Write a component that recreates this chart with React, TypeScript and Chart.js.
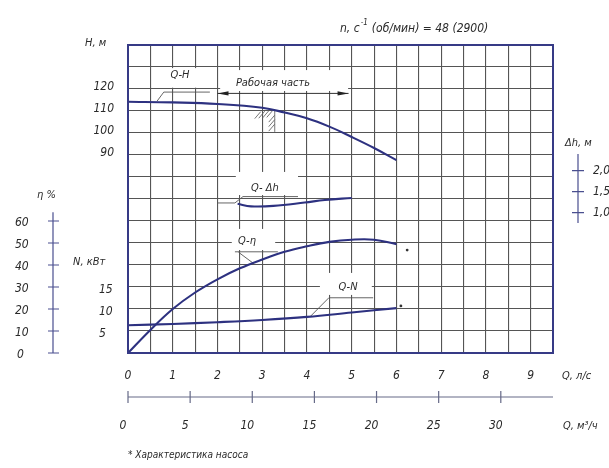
import React, { useEffect, useRef } from 'react';
import { Chart, registerables } from 'chart.js';

Chart.register(...registerables);

// ---- data ----
const Q_H = [0, 1, 2, 3, 3.5, 4, 4.5, 5, 5.5, 6];
const H_VALUES = [114.2, 113.9, 113.2, 111.5, 109.3, 106.7, 102.9, 98.2, 93.2, 87.7];

const Q_ETA = [0, 0.5, 1, 1.5, 2, 2.5, 3, 3.5, 4, 4.5, 5, 5.5, 6];
const ETA_VALUES = [0, 10.5, 20, 27.5, 33.5, 38.5, 42.5, 46, 48.5, 50.5, 51.5, 51.5, 49.5];

const Q_N = [0, 1, 2, 3, 4, 5, 6];
const N_VALUES = [6.3, 6.6, 7.0, 7.5, 8.2, 9.2, 10.2];

const Q_DH = [2.45, 2.75, 3.25, 3.95, 4.4, 5.0];
const DH_VALUES = [1.21, 1.15, 1.16, 1.24, 1.3, 1.35];

const ETA_END = { x: 6.24, y: 46.8 };
const N_END = { x: 6.1, y: 10.7 };

const Q_TICKS = [0, 1, 2, 3, 4, 5, 6, 7, 8, 9];
const QM3_TICKS = [0, 5, 10, 15, 20, 25, 30];
const H_TICKS = [90, 100, 110, 120];
const ETA_TICKS = [0, 10, 20, 30, 40, 50, 60];
const N_TICKS = [5, 10, 15];
const DH_TICKS = [1.0, 1.5, 2.0];
const DH_TICK_LABELS = ['1,0', '1,5', '2,0'];

const CURVE = '#2d3180';
const FRAME = '#363a86';
const AXIS = '#4a4f8f';
const GRID = '#555555';
const TEXT = '#2a2a2a';
const FONT_FAMILY = "'Liberation Sans Narrow', 'DejaVu Sans Condensed', 'DejaVu Sans', sans-serif";
const font = (s: number) => `italic ${s}px ${FONT_FAMILY}`;

const pumpPlugin = {
  id: 'pumpPlugin',
  beforeDatasetsDraw(chart: any) {
    const { ctx, scales } = chart;
    const px = (q: number) => scales.x.getPixelForValue(q);
    const py = (h: number) => scales.y.getPixelForValue(h);
    ctx.save();
    // white boxes behind in-plot labels
    const boxes = [
      [0.6, 1.77, 129.5, 120.6],
      [2.06, 4.92, 128.6, 119.1],
      [2.41, 3.8, 82.3, 71.8],
      [2.32, 3.29, 56.4, 46.8],
      [4.29, 5.45, 36.4, 26.4],
    ];
    ctx.fillStyle = '#ffffff';
    boxes.forEach(([q1, q2, h1, h2]) => {
      ctx.fillRect(px(q1), py(h1), px(q2) - px(q1), py(h2) - py(h1));
    });

    const text = (s: string, q: number, h: number) => {
      ctx.font = font(11);
      ctx.fillStyle = TEXT;
      ctx.textAlign = 'center';
      ctx.textBaseline = 'middle';
      ctx.fillText(s, px(q), py(h));
    };
    text('Q-H', 1.16, 126.4);
    text('Рабочая часть', 3.24, 122.7);
    text('Q- Δh', 3.06, 75);
    text('Q-η', 2.66, 50.9);
    text('Q-N', 4.92, 29.8);

    const poly = (pts: number[][], w = 0.9, c = '#555') => {
      ctx.beginPath();
      ctx.strokeStyle = c;
      ctx.lineWidth = w;
      pts.forEach(([q, h], i) => (i ? ctx.lineTo(px(q), py(h)) : ctx.moveTo(px(q), py(h))));
      ctx.stroke();
    };
    // leaders
    poly([[0.65, 114.5], [0.8, 118.6], [1.83, 118.6]]);
    poly([[2.01, 68.2], [2.39, 68.2], [2.57, 71.1], [3.8, 71.1]]);
    poly([[2.39, 46.0], [3.35, 46.0]]);
    poly([[2.47, 45.8], [2.8, 40.8]]);
    poly([[4.49, 25.1], [5.48, 25.1]]);
    poly([[4.49, 25.1], [4.07, 16.5]]);

    // working range arrow
    const ay = py(118.0);
    const ax1 = px(2.0);
    const ax2 = px(4.93);
    ctx.strokeStyle = '#333';
    ctx.lineWidth = 1;
    ctx.beginPath();
    ctx.moveTo(ax1, ay);
    ctx.lineTo(ax2, ay);
    ctx.stroke();
    ctx.fillStyle = '#222';
    ctx.beginPath();
    ctx.moveTo(ax1, ay);
    ctx.lineTo(ax1 + 11, ay - 2.2);
    ctx.lineTo(ax1 + 11, ay + 2.2);
    ctx.closePath();
    ctx.fill();
    ctx.beginPath();
    ctx.moveTo(ax2, ay);
    ctx.lineTo(ax2 - 11, ay - 2.2);
    ctx.lineTo(ax2 - 11, ay + 2.2);
    ctx.closePath();
    ctx.fill();

    // hatch (start of working zone)
    const hx = px(3.28);
    const hy = py(110.4);
    ctx.strokeStyle = '#666';
    ctx.lineWidth = 0.9;
    ctx.beginPath();
    ctx.moveTo(hx, hy);
    ctx.lineTo(hx, py(100.5));
    for (let i = 0; i < 4; i++) {
      const sx = hx - 2 - i * 4;
      const sy = hy + 0.3 + i * 0.4;
      ctx.moveTo(sx, sy);
      ctx.lineTo(sx - 6, sy + 7);
    }
    for (let j = 0; j < 3; j++) {
      const sy = hy + 5 + j * 4.5;
      ctx.moveTo(hx, sy);
      ctx.lineTo(hx - 6, sy + 7);
    }
    ctx.stroke();
    ctx.restore();
  },
  afterDraw(chart: any) {
    const { ctx, scales, chartArea } = chart;
    const x = scales.x;
    const yH = scales.y;
    const yEta = scales.yEta;
    const yN = scales.yN;
    const yDh = scales.yDh;
    ctx.save();
    // frame
    ctx.strokeStyle = FRAME;
    ctx.lineWidth = 2;
    ctx.strokeRect(chartArea.left, chartArea.top, chartArea.right - chartArea.left, chartArea.bottom - chartArea.top);

    ctx.fillStyle = TEXT;
    ctx.textBaseline = 'middle';
    ctx.font = font(12);

    // H axis labels
    ctx.textAlign = 'right';
    H_TICKS.forEach((v) => ctx.fillText(String(v), 114, yH.getPixelForValue(v) - 2));
    ctx.textAlign = 'left';
    ctx.font = font(11);
    ctx.fillText('H, м', 85, 43);

    // eta axis
    const ex = 53;
    ctx.strokeStyle = AXIS;
    ctx.lineWidth = 1.2;
    ctx.beginPath();
    ctx.moveTo(ex, yEta.getPixelForValue(0));
    ctx.lineTo(ex, yEta.getPixelForValue(64));
    ETA_TICKS.forEach((v) => {
      const yy = yEta.getPixelForValue(v);
      ctx.moveTo(ex - 5, yy);
      ctx.lineTo(ex + 6, yy);
    });
    ctx.stroke();
    ctx.textAlign = 'left';
    ctx.font = font(12);
    ETA_TICKS.forEach((v) => ctx.fillText(String(v), v === 0 ? 17 : 15, yEta.getPixelForValue(v) + 2));
    ctx.font = font(11);
    ctx.fillText('η %', 37, 195);

    // N axis labels
    ctx.font = font(12);
    N_TICKS.forEach((v) => ctx.fillText(String(v), 99, yN.getPixelForValue(v) + 3));
    ctx.font = font(11);
    ctx.fillText('N, кВт', 73, 262);

    // dh axis
    const dx = 578;
    ctx.beginPath();
    ctx.moveTo(dx, yDh.getPixelForValue(2.4));
    ctx.lineTo(dx, yDh.getPixelForValue(0.75));
    DH_TICKS.forEach((v) => {
      const yy = yDh.getPixelForValue(v);
      ctx.moveTo(dx - 6, yy);
      ctx.lineTo(dx + 6, yy);
    });
    ctx.stroke();
    ctx.font = font(12);
    DH_TICKS.forEach((v, i) => ctx.fillText(DH_TICK_LABELS[i], 593, yDh.getPixelForValue(v)));
    ctx.font = font(11);
    ctx.fillText('Δh, м', 565, 143);

    // title
    ctx.textAlign = 'left';
    ctx.font = font(12);
    let tx = 340;
    ctx.fillText('n, с', tx, 29);
    tx += ctx.measureText('n, с').width + 1;
    ctx.font = font(8);
    ctx.fillText('-1', tx, 23);
    tx += ctx.measureText('-1').width + 4;
    ctx.font = font(12);
    ctx.fillText('(об/мин) = 48 (2900)', tx, 29);

    // Q l/s labels
    ctx.textAlign = 'center';
    Q_TICKS.forEach((v) => ctx.fillText(String(v), x.getPixelForValue(v), 376));
    ctx.textAlign = 'left';
    ctx.font = font(11);
    ctx.fillText('Q, л/с', 562, 376);

    // Q m3/h axis
    const my = 397;
    ctx.strokeStyle = '#666a88';
    ctx.lineWidth = 1.2;
    ctx.beginPath();
    ctx.moveTo(x.getPixelForValue(0), my);
    ctx.lineTo(x.getPixelForValue(9.5), my);
    QM3_TICKS.forEach((v) => {
      const xx = x.getPixelForValue(v / 3.6);
      ctx.moveTo(xx, my - 6);
      ctx.lineTo(xx, my + 6);
    });
    ctx.stroke();
    ctx.textAlign = 'center';
    ctx.font = font(12);
    QM3_TICKS.forEach((v) => ctx.fillText(String(v), x.getPixelForValue(v / 3.6) - 5, 426));
    ctx.textAlign = 'left';
    ctx.font = font(11);
    ctx.fillText('Q, м³/ч', 563, 426);

    // footnote
    ctx.font = font(10);
    ctx.fillText('* Характеристика насоса', 128, 455);
    ctx.restore();
  },
};

export default function App() {
  const ref = useRef<HTMLCanvasElement>(null);
  useEffect(() => {
    const canvas = ref.current;
    if (!canvas) return;
    const line = (data: { x: number; y: number }[], axis: string) => ({
      data,
      yAxisID: axis,
      borderColor: CURVE,
      borderWidth: 2.1,
      pointRadius: 0,
      tension: 0.4,
      fill: false,
    });
    const dot = (p: { x: number; y: number }, axis: string) => ({
      data: [p],
      yAxisID: axis,
      showLine: false,
      pointRadius: 1.4,
      pointBackgroundColor: '#333',
      pointBorderWidth: 0,
    });
    const gridOpts = { color: GRID, lineWidth: 1.1, drawTicks: false };
    const chart = new Chart(canvas, {
      type: 'line',
      data: {
        datasets: [
          line(Q_H.map((q, i) => ({ x: q, y: H_VALUES[i] })), 'y'),
          line(Q_ETA.map((q, i) => ({ x: q, y: ETA_VALUES[i] })), 'yEta'),
          line(Q_N.map((q, i) => ({ x: q, y: N_VALUES[i] })), 'yN'),
          line(Q_DH.map((q, i) => ({ x: q, y: DH_VALUES[i] })), 'yDh'),
          dot(ETA_END, 'yEta'),
          dot(N_END, 'yN'),
        ] as any,
      },
      options: {
        responsive: false,
        maintainAspectRatio: false,
        animation: false,
        layout: { padding: { left: 128, top: 45, right: 56, bottom: 115 } },
        plugins: { legend: { display: false }, tooltip: { enabled: false } },
        scales: {
          x: {
            type: 'linear',
            min: 0,
            max: 9.5,
            ticks: { display: false, stepSize: 0.5 },
            grid: gridOpts,
            border: { display: false },
            afterFit: (s: any) => {
              s.height = 0;
            },
          },
          y: {
            type: 'linear',
            min: 0,
            max: 140,
            ticks: { display: false, stepSize: 10 },
            grid: gridOpts,
            border: { display: false },
            afterFit: (s: any) => {
              s.width = 0;
            },
          },
          yEta: { type: 'linear', display: false, min: 0, max: 140 },
          yN: { type: 'linear', display: false, min: 0, max: 70 },
          yDh: { type: 'linear', display: false, min: -2.35, max: 5.0 },
        },
      } as any,
      plugins: [pumpPlugin],
    });
    return () => chart.destroy();
  }, []);
  return (
    <div style={{ position: 'absolute', left: 0, top: 0, width: 609, height: 468, background: '#ffffff' }}>
      <canvas ref={ref} width={609} height={468} style={{ display: 'block', width: 609, height: 468 }} />
    </div>
  );
}
